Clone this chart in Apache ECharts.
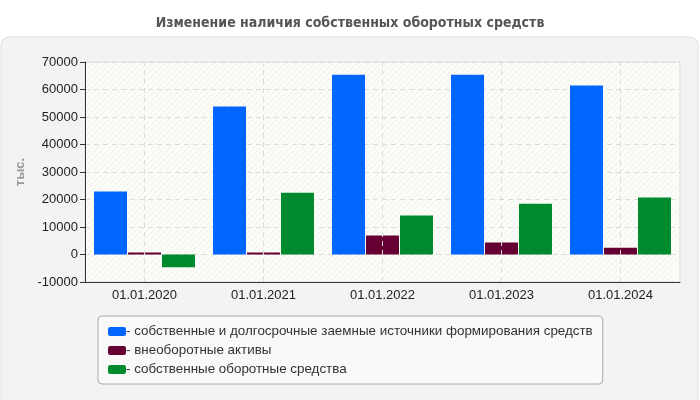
<!DOCTYPE html>
<html>
<head>
<meta charset="utf-8">
<script src="https://cdn.jsdelivr.net/npm/echarts@6/dist/echarts.min.js"></script>
<style>
  html, body { margin: 0; padding: 0; background: #fff; }
  #main { width: 700px; height: 400px; }
</style>
</head>
<body>
<div id="main"></div>
<script>
// данные
const dates = ['01.01.2020', '01.01.2021', '01.01.2022', '01.01.2023', '01.01.2024']
const ownAndLongTerm = [22900, 53800, 65400, 65400, 61500]
const nonCurrent = [700, 700, 6900, 4400, 2500]
const ownWorking = [-4600, 22500, 14200, 18500, 20700]
const seriesNames = [
  'собственные и долгосрочные заемные источники формирования средств',
  'внеоборотные активы',
  'собственные оборотные средства'
]
const colors = ['#0066ff', '#660033', '#008a2e']

// штриховка фона
const hatch = document.createElement('canvas')
hatch.width = 6
hatch.height = 6
const ctx = hatch.getContext('2d')
ctx.fillStyle = '#fcfcf8'
ctx.fillRect(0, 0, 6, 6)
ctx.strokeStyle = '#f0f0ea'
ctx.lineWidth = 1
ctx.beginPath()
ctx.moveTo(0, 6); ctx.lineTo(6, 0)
ctx.moveTo(-1, 1); ctx.lineTo(1, -1)
ctx.moveTo(5, 7); ctx.lineTo(7, 5)
ctx.stroke()

const chart = echarts.init(document.getElementById('main'))

const makeBar = (name, data, color) => ({
  name: name,
  type: 'bar',
  data: data,
  barWidth: 33,
  barGap: '3%',
  z: 3,
  itemStyle: { color: color },
  emphasis: { disabled: true }
})

chart.setOption({
  backgroundColor: '#fff',
  animation: false,
  title: {
    text: 'Изменение наличия собственных оборотных средств',
    left: 'center',
    top: 11,
    textStyle: { fontFamily: 'DejaVu Sans Condensed, Liberation Sans', fontSize: 14, fontWeight: 'bold', color: '#555' }
  },
  graphic: [{
    type: 'rect',
    z: -10,
    shape: { x: 1, y: 37, width: 697, height: 370, r: 8 },
    style: { fill: '#f3f3f3', stroke: '#e0e0e0', lineWidth: 1 }
  }],
  grid: {
    left: 85, right: 20, top: 62, bottom: 118,
    show: true,
    backgroundColor: { image: hatch, repeat: 'repeat' },
    borderColor: '#dddddd',
    borderWidth: 1
  },
  legend: {
    orient: 'vertical',
    left: 98,
    top: 316,
    padding: [9, 10, 8, 10],
    itemGap: 6,
    itemWidth: 18,
    itemHeight: 9,
    icon: 'roundRect',
    backgroundColor: '#f9f9f9',
    borderColor: '#aaaaaa',
    borderWidth: 1,
    borderRadius: 4,
    selectedMode: false,
    formatter: name => '- ' + name,
    textStyle: { fontFamily: 'Liberation Sans', fontSize: 13.4, color: '#333', padding: [0, 0, 0, -5] },
    data: seriesNames
  },
  xAxis: {
    type: 'category',
    data: dates,
    axisLine: { onZero: false, lineStyle: { color: '#333' } },
    axisTick: { alignWithLabel: true, length: 5, lineStyle: { color: '#333' } },
    axisLabel: { fontFamily: 'Liberation Sans', fontSize: 13, color: '#222', margin: 7 },
    splitLine: { show: false }
  },
  yAxis: {
    type: 'value',
    min: -10000,
    max: 70000,
    interval: 10000,
    name: 'тыс.',
    nameLocation: 'middle',
    nameGap: 53,
    nameTextStyle: { fontFamily: 'Liberation Sans', fontSize: 13, fontWeight: 'bold', color: '#999' },
    axisLine: { show: true, lineStyle: { color: '#333' } },
    axisTick: { show: true, length: 5, lineStyle: { color: '#333' } },
    axisLabel: { fontFamily: 'Liberation Sans', fontSize: 13, color: '#222', margin: 7, formatter: v => String(v) },
    splitLine: { lineStyle: { color: '#dcdcdc', type: [5, 4] } }
  },
  series: [
    // вертикальные пунктирные линии по центрам категорий
    {
      type: 'line',
      data: [],
      z: 1,
      silent: true,
      markLine: {
        silent: true,
        symbol: 'none',
        label: { show: false },
        lineStyle: { color: '#dcdcdc', type: [5, 4], width: 1 },
        data: dates.map(d => ({ xAxis: d }))
      }
    },
    makeBar(seriesNames[0], ownAndLongTerm, colors[0]),
    makeBar(seriesNames[1], nonCurrent, colors[1]),
    makeBar(seriesNames[2], ownWorking, colors[2])
  ]
})
</script>
</body>
</html>
